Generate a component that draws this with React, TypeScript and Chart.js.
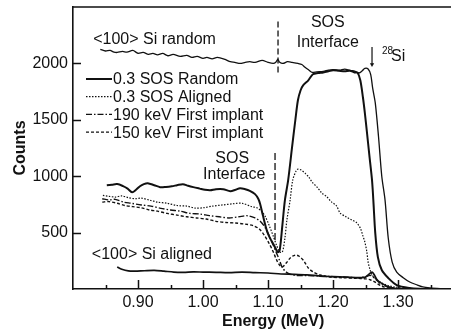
import React, { useEffect, useRef } from "react";
import { Chart, registerables } from "chart.js";

Chart.register(...registerables);

const FONT = "'Liberation Sans', Arial, Helvetica, sans-serif";
const INK = "#111";

// ---------- data (Energy in MeV, Counts) ----------
const siRandomE = [0.842, 0.850, 0.857, 0.863, 0.868, 0.876, 0.883, 0.892, 0.900, 0.908, 0.916, 0.923, 0.930, 0.938, 0.946, 0.954, 0.965, 0.975, 0.983, 0.991, 1.000, 1.006, 1.014, 1.022, 1.034, 1.042, 1.049, 1.057, 1.065, 1.072, 1.080, 1.091, 1.100, 1.108, 1.112, 1.115, 1.118, 1.123, 1.130, 1.137, 1.146, 1.152, 1.157, 1.163, 1.168, 1.175, 1.185, 1.193, 1.200, 1.210, 1.218, 1.226, 1.234, 1.240, 1.245, 1.249, 1.254, 1.258, 1.261, 1.265, 1.270, 1.275, 1.280, 1.285, 1.291, 1.298, 1.308, 1.318, 1.330, 1.338, 1.349, 1.365, 1.380];
const siRandomC = [2124, 2110, 2115, 2100, 2097, 2106, 2100, 2115, 2090, 2097, 2080, 2088, 2075, 2088, 2068, 2080, 2062, 2071, 2053, 2062, 2045, 2053, 2040, 2053, 2035, 2015, 2009, 2000, 2009, 2015, 2009, 2027, 2009, 2000, 2010, 2035, 2010, 2000, 2015, 2009, 2000, 1990, 1965, 1940, 1920, 1925, 1930, 1940, 1945, 1940, 1950, 1938, 1930, 1915, 1935, 1956, 1950, 1900, 1780, 1650, 1350, 1000, 790, 450, 239, 150, 100, 62, 35, 18, 9, 3, 0];

const sosRandomE = [0.852, 0.860, 0.868, 0.877, 0.884, 0.891, 0.897, 0.903, 0.909, 0.915, 0.925, 0.934, 0.943, 0.952, 0.960, 0.969, 0.977, 0.985, 0.995, 1.003, 1.011, 1.020, 1.031, 1.042, 1.050, 1.057, 1.065, 1.072, 1.080, 1.085, 1.088, 1.092, 1.098, 1.103, 1.109, 1.115, 1.118, 1.122, 1.126, 1.131, 1.137, 1.142, 1.146, 1.150, 1.154, 1.162, 1.169, 1.177, 1.185, 1.193, 1.200, 1.209, 1.218, 1.226, 1.233, 1.238, 1.242, 1.246, 1.249, 1.252, 1.256, 1.260, 1.262, 1.265, 1.269, 1.275, 1.285, 1.298, 1.318, 1.340];
const sosRandomC = [920, 925, 930, 912, 890, 858, 880, 911, 930, 938, 920, 903, 905, 911, 920, 929, 915, 903, 890, 880, 876, 885, 885, 867, 880, 894, 885, 870, 841, 800, 752, 655, 522, 451, 390, 327, 345, 560, 788, 965, 1257, 1496, 1673, 1760, 1805, 1850, 1904, 1915, 1920, 1930, 1940, 1935, 1930, 1935, 1920, 1915, 1850, 1700, 1560, 1400, 1180, 965, 790, 496, 283, 168, 97, 35, 9, 0];

const sosAlignedE = [0.846, 0.855, 0.865, 0.875, 0.885, 0.895, 0.905, 0.918, 0.930, 0.945, 0.960, 0.975, 0.988, 1.000, 1.015, 1.030, 1.045, 1.060, 1.075, 1.083, 1.090, 1.096, 1.102, 1.108, 1.113, 1.118, 1.122, 1.126, 1.129, 1.134, 1.138, 1.143, 1.146, 1.151, 1.157, 1.163, 1.168, 1.176, 1.183, 1.190, 1.198, 1.205, 1.211, 1.220, 1.229, 1.236, 1.242, 1.246, 1.249, 1.252, 1.254, 1.257, 1.260, 1.267, 1.275, 1.285, 1.295, 1.318];
const sosAlignedC = [830, 822, 815, 825, 810, 800, 805, 788, 770, 760, 740, 735, 717, 720, 735, 745, 755, 760, 730, 720, 690, 640, 560, 470, 390, 330, 327, 450, 610, 788, 965, 1044, 1062, 1055, 1027, 990, 947, 900, 850, 820, 770, 740, 673, 640, 611, 590, 540, 470, 416, 330, 239, 170, 124, 85, 53, 30, 18, 0];

const kev190E = [0.845, 0.855, 0.865, 0.878, 0.890, 0.905, 0.920, 0.935, 0.950, 0.965, 0.980, 0.995, 1.010, 1.025, 1.040, 1.055, 1.068, 1.080, 1.088, 1.095, 1.102, 1.108, 1.113, 1.118, 1.122, 1.128, 1.135, 1.145, 1.160, 1.180, 1.200, 1.220, 1.240, 1.250, 1.258, 1.265, 1.275, 1.290, 1.310];
const kev190C = [800, 790, 795, 770, 760, 745, 735, 715, 700, 690, 670, 665, 650, 640, 630, 640, 650, 630, 600, 550, 470, 390, 320, 250, 190, 150, 130, 120, 120, 115, 110, 105, 100, 110, 120, 90, 40, 10, 0];

const kev150E = [0.845, 0.855, 0.868, 0.880, 0.892, 0.905, 0.918, 0.930, 0.945, 0.960, 0.975, 0.990, 1.005, 1.020, 1.035, 1.050, 1.065, 1.078, 1.087, 1.095, 1.102, 1.108, 1.113, 1.118, 1.122, 1.128, 1.135, 1.142, 1.148, 1.155, 1.162, 1.170, 1.180, 1.195, 1.215, 1.235, 1.250, 1.258, 1.265, 1.275, 1.290];
const kev150C = [770, 775, 760, 740, 730, 720, 700, 690, 670, 655, 640, 630, 620, 600, 590, 585, 575, 560, 530, 470, 400, 330, 260, 210, 195, 230, 280, 301, 290, 250, 186, 150, 124, 106, 100, 95, 90, 80, 60, 25, 0];

const siAlignedE = [0.868, 0.875, 0.885, 0.895, 0.910, 0.925, 0.940, 0.955, 0.970, 0.985, 1.000, 1.020, 1.040, 1.060, 1.080, 1.100, 1.120, 1.140, 1.160, 1.180, 1.200, 1.220, 1.240, 1.250, 1.255, 1.260, 1.264, 1.268, 1.275, 1.285, 1.300];
const siAlignedC = [195, 175, 160, 158, 162, 165, 158, 150, 148, 152, 150, 148, 145, 150, 145, 142, 133, 130, 125, 115, 110, 106, 100, 105, 130, 150, 120, 80, 50, 20, 0];

// interface markers and 28Si arrow
const upperInterfaceE = [1.1154, 1.1154];
const upperInterfaceC = [1920, 2380];
const lowerInterfaceE = [1.1108, 1.1108];
const lowerInterfaceC = [434, 1230];
const si28ArrowE = [1.260, 1.260];
const si28ArrowC = [2145, 1990];

// axes
const xMajorTicks = [0.9, 1.0, 1.1, 1.2, 1.3];
const xTickLabels = ["0.90", "1.00", "1.10", "1.20", "1.30"];
const xMinorTicks = [0.85, 0.95, 1.05, 1.15, 1.25, 1.35];
const yTicks = [500, 1000, 1500, 2000];
const yTickLabels = ["500", "1000", "1500", "2000"];

const legendLabels = ["0.3 SOS Random", "0.3 SOS Aligned", "190 keV First implant", "150 keV First implant"];

function pts(e: number[], c: number[]) {
  return e.map((x, i) => ({ x, y: c[i] }));
}

const inwardTicks = {
  id: "inwardTicks",
  afterDraw(chart: any) {
    const { ctx, chartArea } = chart;
    const xs = chart.scales.x;
    const ys = chart.scales.y;
    ctx.save();
    ctx.strokeStyle = INK;
    ctx.lineWidth = 1.5;
    ctx.beginPath();
    ctx.moveTo(chartArea.left, chartArea.top);
    ctx.lineTo(chartArea.right, chartArea.top);
    xMajorTicks.forEach((v) => {
      const p = Math.round(xs.getPixelForValue(v)) + 0.5;
      ctx.moveTo(p, chartArea.bottom);
      ctx.lineTo(p, chartArea.bottom - 9);
    });
    xMinorTicks.forEach((v) => {
      const p = Math.round(xs.getPixelForValue(v)) + 0.5;
      ctx.moveTo(p, chartArea.bottom);
      ctx.lineTo(p, chartArea.bottom - 4);
    });
    yTicks.forEach((v) => {
      const p = Math.round(ys.getPixelForValue(v)) + 0.5;
      ctx.moveTo(chartArea.left, p);
      ctx.lineTo(chartArea.left + 8, p);
    });
    ctx.stroke();
    ctx.restore();
  },
};

const annotations = {
  id: "annotations",
  afterDraw(chart: any) {
    const { ctx, chartArea } = chart;
    const xs = chart.scales.x;
    const ys = chart.scales.y;
    const X = (v: number) => xs.getPixelForValue(v);
    const Y = (v: number) => ys.getPixelForValue(v);
    ctx.save();
    ctx.fillStyle = INK;
    ctx.textBaseline = "middle";
    ctx.font = `16px ${FONT}`;
    ctx.textAlign = "left";
    ctx.fillText("<100> Si random", X(0.831), Y(2212));
    ctx.fillText("<100> Si aligned", X(0.829), Y(301));
    ctx.textAlign = "center";
    ctx.fillText("SOS", X(1.192), Y(2363));
    ctx.fillText("Interface", X(1.192), Y(2186));
    ctx.fillText("SOS", X(1.045), Y(1159));
    ctx.fillText("Interface", X(1.048), Y(1018));
    ctx.textAlign = "left";
    ctx.font = `10px ${FONT}`;
    ctx.fillText("28", X(1.2754), Y(2106));
    ctx.font = `16px ${FONT}`;
    ctx.fillText("Si", X(1.2892), Y(2057));

    const legendSets = chart.data.datasets.filter((d: any) => d.inLegend);
    const x0 = chartArea.left + 13;
    const x1 = chartArea.left + 39;
    legendSets.forEach((d: any, i: number) => {
      const yy = chartArea.top + 72 + i * 17.7;
      ctx.save();
      ctx.strokeStyle = INK;
      ctx.lineWidth = d.borderWidth;
      ctx.setLineDash(d.borderDash || []);
      ctx.beginPath();
      ctx.moveTo(x0, yy);
      ctx.lineTo(x1, yy);
      ctx.stroke();
      ctx.restore();
      ctx.font = `16px ${FONT}`;
      ctx.textAlign = "left";
      ctx.fillText(d.label, x1 + 1, yy + 1);
    });
    ctx.restore();
  },
};

export default function App() {
  const ref = useRef<HTMLCanvasElement | null>(null);

  useEffect(() => {
    if (!ref.current) return;
    const line = (label: string, data: any[], width: number, dash: number[], inLegend = false) => ({
      label,
      data,
      borderColor: INK,
      backgroundColor: INK,
      borderWidth: width,
      borderDash: dash,
      pointRadius: 0,
      pointHoverRadius: 0,
      pointBorderWidth: 0,
      fill: false,
      tension: 0.3,
      inLegend,
    });

    const chart = new Chart(ref.current, {
      type: "line",
      data: {
        datasets: [
          line("<100> Si random", pts(siRandomE, siRandomC), 1.3, []),
          line(legendLabels[0], pts(sosRandomE, sosRandomC), 2, [], true),
          line(legendLabels[1], pts(sosAlignedE, sosAlignedC), 1.2, [1.5, 1.5], true),
          line(legendLabels[2], pts(kev190E, kev190C), 1.4, [6, 2, 1.5, 2], true),
          line(legendLabels[3], pts(kev150E, kev150C), 1.4, [3, 2], true),
          line("<100> Si aligned", pts(siAlignedE, siAlignedC), 1.7, []),
          { ...line("SOS interface (upper)", pts(upperInterfaceE, upperInterfaceC), 1.3, [6, 3]), tension: 0 },
          { ...line("SOS interface (lower)", pts(lowerInterfaceE, lowerInterfaceC), 1.3, [7, 3]), tension: 0 },
          {
            ...line("28Si", pts(si28ArrowE, si28ArrowC), 1.2, []),
            tension: 0,
            pointRadius: [0, 2.5],
            pointStyle: "triangle",
            rotation: 180,
          },
        ] as any,
      },
      options: {
        animation: false,
        responsive: false,
        layout: { autoPadding: false, padding: { top: 7, right: 0, left: 0, bottom: 0 } },
        plugins: { legend: { display: false }, tooltip: { enabled: false } },
        scales: {
          x: {
            type: "linear",
            min: 0.8,
            max: 1.3815,
            afterFit: (s: any) => {
              s.height = 42;
              s.paddingLeft = 0;
              s.paddingRight = 0;
            },
            afterBuildTicks: (s: any) => { s.ticks = xMajorTicks.map((v) => ({ value: v })); },
            grid: { display: false, drawTicks: false, tickLength: 0 },
            border: { display: true, color: INK, width: 1.6 },
            ticks: {
              autoSkip: false,
              maxRotation: 0,
              padding: 4,
              color: INK,
              font: { family: FONT, size: 16 },
              callback: (v: any) => {
                const i = xMajorTicks.findIndex((t) => Math.abs(t - Number(v)) < 1e-6);
                return i >= 0 ? xTickLabels[i] : "";
              },
            },
            title: {
              display: true,
              text: "     Energy (MeV)",
              color: INK,
              font: { family: FONT, size: 16, weight: "bold" },
              padding: { top: 0, bottom: 0 },
            },
          },
          y: {
            type: "linear",
            min: 0,
            max: 2500,
            afterFit: (s: any) => {
              s.width = 73;
              s.paddingTop = 0;
              s.paddingBottom = 0;
            },
            afterBuildTicks: (s: any) => { s.ticks = yTicks.map((v) => ({ value: v })); },
            grid: { display: false, drawTicks: false, tickLength: 0 },
            border: { display: true, color: INK, width: 1.6 },
            ticks: {
              autoSkip: false,
              padding: 5,
              color: INK,
              font: { family: FONT, size: 16 },
              callback: (v: any) => {
                const i = yTicks.indexOf(Number(v));
                return i >= 0 ? yTickLabels[i] : "";
              },
            },
            title: {
              display: true,
              text: "Counts",
              color: INK,
              font: { family: FONT, size: 16, weight: "bold" },
              padding: { top: 11, bottom: 0 },
            },
          },
        },
      } as any,
      plugins: [inwardTicks, annotations],
    });
    return () => chart.destroy();
  }, []);

  return (
    <div style={{ position: "absolute", left: 0, top: 0, width: 451, height: 331, background: "#fff" }}>
      <canvas ref={ref} width={451} height={331} style={{ display: "block" }} />
    </div>
  );
}
